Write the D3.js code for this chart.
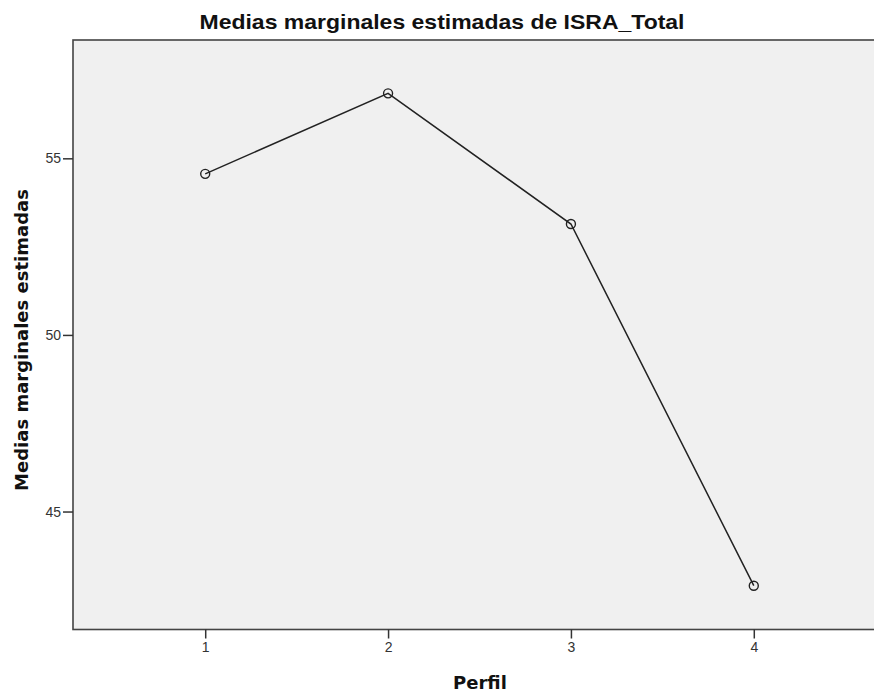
<!DOCTYPE html>
<html>
<head>
<meta charset="utf-8">
<script src="https://cdn.jsdelivr.net/npm/d3@7"></script>
<style>
  body { margin: 0; background: #fff; }
  svg { display: block; }
</style>
</head>
<body>
<svg width="874" height="694"></svg>
<script>
// chart data
var perfiles = [1, 2, 3, 4];
var medias = [54.56, 56.84, 53.14, 42.9];
var yTicks = [45, 50, 55];

var titulo = 'Medias marginales estimadas de ISRA_Total';
var ejeX = 'Perfil';
var ejeY = 'Medias marginales estimadas';

function drawChart() {
    var svg = d3.select('svg');
    var arial = 'Liberation Sans, Arial, sans-serif';
    var verdana = 'DejaVu Sans, Verdana, sans-serif';

    // plot frame (right side runs off the picture)
    var pl = 73, pt = 40, pr = 886, pb = 629.5;

    var x = d3.scaleLinear().domain([0.277, 4.723]).range([pl, pr]);
    var y = d3.scaleLinear().domain([41.66, 58.35]).range([pb, pt]);

    svg.append('rect')
        .attr('x', pl).attr('y', pt)
        .attr('width', pr - pl).attr('height', pb - pt)
        .attr('fill', '#f0f0f0')
        .attr('stroke', '#444')
        .attr('stroke-width', 1.6);

    // axes
    var xAxis = svg.append('g')
        .attr('transform', 'translate(0,' + pb + ')')
        .call(d3.axisBottom(x).tickValues(perfiles).tickSize(9).tickPadding(4).tickFormat(d3.format('d')));
    var yAxis = svg.append('g')
        .attr('transform', 'translate(' + pl + ',0)')
        .call(d3.axisLeft(y).tickValues(yTicks).tickSize(10).tickPadding(2));

    [xAxis, yAxis].forEach(function(ax) {
        ax.select('.domain').remove();
        ax.selectAll('.tick line').attr('stroke', '#333').attr('stroke-width', 1.5);
        ax.selectAll('.tick text')
            .attr('fill', '#333')
            .style('font-family', arial)
            .style('font-size', '14px');
    });

    // line + markers
    var line = d3.line()
        .x(function(d, i) { return x(perfiles[i]); })
        .y(function(d) { return y(d); });

    svg.append('path')
        .datum(medias)
        .attr('d', line)
        .attr('fill', 'none')
        .attr('stroke', '#222')
        .attr('stroke-width', 1.5);

    svg.selectAll('circle.pt')
        .data(medias)
        .enter()
        .append('circle')
        .attr('class', 'pt')
        .attr('cx', function(d, i) { return x(perfiles[i]); })
        .attr('cy', function(d) { return y(d); })
        .attr('r', 4.5)
        .attr('fill', 'none')
        .attr('stroke', '#222')
        .attr('stroke-width', 1.4);

    // texts
    svg.append('text')
        .attr('x', 442).attr('y', 29)
        .attr('text-anchor', 'middle')
        .attr('textLength', 485)
        .attr('lengthAdjust', 'spacingAndGlyphs')
        .style('font-family', arial)
        .style('font-weight', 'bold')
        .style('font-size', '21px')
        .attr('fill', '#111')
        .text(titulo);

    svg.append('text')
        .attr('x', 480).attr('y', 689)
        .attr('text-anchor', 'middle')
        .style('font-family', verdana)
        .style('font-weight', 'bold')
        .style('font-size', '18px')
        .attr('fill', '#111')
        .text(ejeX);

    svg.append('text')
        .attr('transform', 'translate(28,340) rotate(-90)')
        .attr('text-anchor', 'middle')
        .style('font-family', verdana)
        .style('font-weight', 'bold')
        .style('font-size', '18px')
        .attr('fill', '#111')
        .text(ejeY);
}

drawChart();
</script>
</body>
</html>
